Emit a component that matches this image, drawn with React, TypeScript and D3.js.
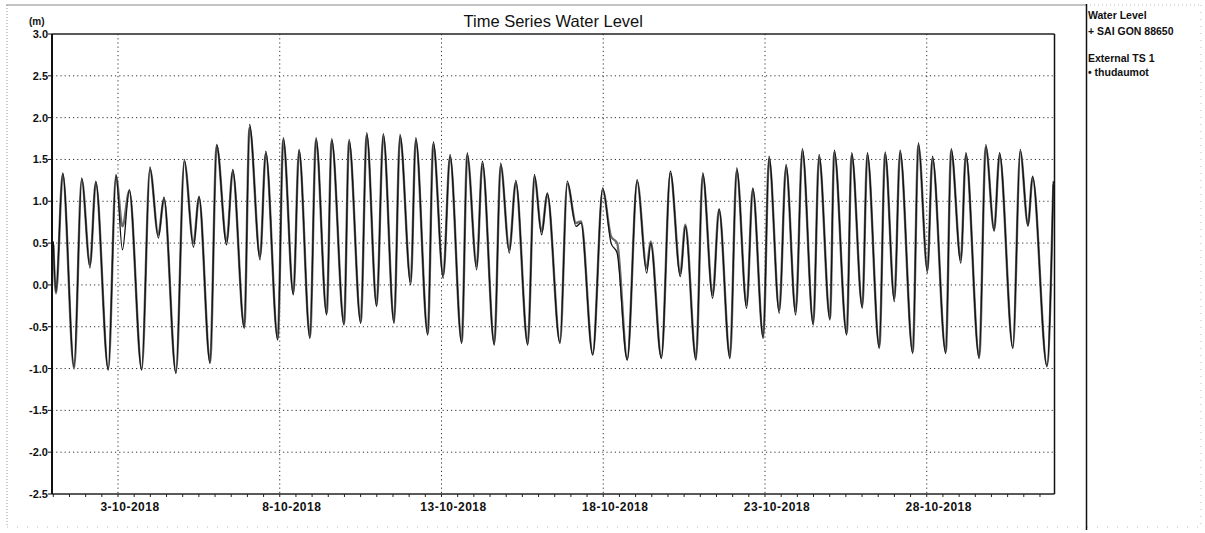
import React from "react";
import * as d3 from "d3";

// Time window of the record (hourly series, October 2018)
const START = new Date(2018, 9, 1, 0, 0);
const END = new Date(2018, 9, 31, 23, 0);

// Hours after START of each tidal turning point (highs, lows and shoulders)
const turnHours = [
  0, 2.0, 7.0, 15.4, 21.1, 27.2, 31.5, 40.8, 46.5, 51.3,
  56.4, 65.6, 71.7, 77.9, 82.1, 91.0, 97.2, 104.0, 108.1, 116.3,
  121.2, 128.6, 133.1, 141.7, 145.6, 153.4, 157.6, 166.5, 170.6, 178.1,
  182.3, 190.4, 194.9, 202.8, 206.5, 215.7, 219.4, 228.1, 232.5, 239.9,
  244.8, 252.8, 257.2, 265.2, 268.9, 277.8, 281.9, 289.3, 294.3, 303.0,
  307.1, 314.1, 318.3, 327.2, 331.9, 338.3, 343.1, 352.0, 356.9, 362.3,
  366.5, 375.9, 381.3, 387.8, 391.5, 400.2, 407.6, 413.8, 418.3, 425.8,
  433.2, 440.2, 443.2, 451.1, 457.8, 465.2, 468.9, 476.8, 481.8, 489.2,
  493.9, 502.0, 507.0, 514.4, 518.9, 526.7, 531.0, 538.6, 543.6, 550.8,
  555.7, 563.8, 568.1, 576.2, 579.4, 588.6, 592.3, 600.2, 603.9, 612.8,
  617.1, 624.0, 628.2, 637.6, 641.8, 648.5, 652.2, 662.1, 666.1, 673.3,
  677.0, 686.9, 691.8, 698.0, 702.0, 711.9, 717.4, 723.1, 726.5, 737.2,
  741.9,
];

// Water level (m) at SAI GON 88650
const saigonLevels = [
  0.52, -0.08, 1.34, -0.98, 1.28, 0.2, 1.24, -1.02, 1.32, 0.42,
  1.14, -1.02, 1.41, 0.56, 1.05, -1.06, 1.5, 0.45, 1.06, -0.94,
  1.68, 0.48, 1.38, -0.52, 1.92, 0.3, 1.6, -0.66, 1.76, -0.12,
  1.62, -0.64, 1.76, -0.36, 1.75, -0.48, 1.74, -0.46, 1.82, -0.26,
  1.81, -0.46, 1.8, 0.0, 1.76, -0.6, 1.71, 0.08, 1.56, -0.7,
  1.58, 0.18, 1.48, -0.72, 1.46, 0.38, 1.25, -0.72, 1.32, 0.6,
  1.1, -0.7, 1.24, 0.7, 0.74, -0.84, 1.16, 0.5, 0.38, -0.9,
  1.26, 0.14, 0.5, -0.88, 1.36, 0.1, 0.7, -0.9, 1.34, -0.16,
  0.91, -0.88, 1.4, -0.28, 1.16, -0.64, 1.54, -0.34, 1.44, -0.36,
  1.63, -0.48, 1.56, -0.42, 1.61, -0.6, 1.58, -0.28, 1.58, -0.76,
  1.59, -0.2, 1.61, -0.82, 1.7, 0.14, 1.54, -0.82, 1.63, 0.26,
  1.58, -0.88, 1.68, 0.64, 1.58, -0.76, 1.62, 0.7, 1.3, -0.98,
  1.24,
];

// External TS 1: water level (m) at thudaumot
const thudaumotLevels = [
  0.48, -0.1, 1.32, -1.0, 1.26, 0.24, 1.22, -1.0, 1.3, 0.7,
  1.12, -1.0, 1.38, 0.6, 1.02, -1.04, 1.47, 0.5, 1.04, -0.92,
  1.66, 0.52, 1.35, -0.5, 1.88, 0.34, 1.57, -0.64, 1.73, -0.1,
  1.6, -0.62, 1.73, -0.34, 1.72, -0.46, 1.71, -0.44, 1.79, -0.24,
  1.78, -0.44, 1.77, 0.04, 1.73, -0.58, 1.68, 0.12, 1.53, -0.68,
  1.55, 0.22, 1.45, -0.7, 1.43, 0.42, 1.22, -0.7, 1.29, 0.64,
  1.08, -0.68, 1.21, 0.74, 0.76, -0.82, 1.13, 0.58, 0.5, -0.88,
  1.23, 0.2, 0.52, -0.86, 1.33, 0.14, 0.72, -0.88, 1.31, -0.12,
  0.9, -0.86, 1.37, -0.24, 1.14, -0.62, 1.51, -0.3, 1.41, -0.32,
  1.6, -0.46, 1.53, -0.4, 1.58, -0.58, 1.55, -0.26, 1.55, -0.74,
  1.56, -0.16, 1.58, -0.8, 1.67, 0.18, 1.51, -0.8, 1.6, 0.3,
  1.55, -0.86, 1.65, 0.66, 1.55, -0.74, 1.59, 0.72, 1.28, -0.96,
  1.2,
];

const levelTicks = [3.0, 2.5, 2.0, 1.5, 1.0, 0.5, 0.0, -0.5, -1.0, -1.5, -2.0, -2.5];
const gridDays = [3, 8, 13, 18, 23, 28];
const dateLabels = ["3-10-2018", "8-10-2018", "13-10-2018", "18-10-2018", "23-10-2018", "28-10-2018"];

const FONT = "'Liberation Sans', Arial, Helvetica, sans-serif";

export default function App() {
  const W = 1205;
  const H = 533;
  const left = 52;
  const right = 1054.5;
  const top = 34;
  const bottom = 494;

  const x = d3.scaleTime().domain([START, END]).range([53.3, 1054.8]);
  const y = d3.scaleLinear().domain([-2.5, 3.0]).range([bottom, top]);

  const at = (h: number) => new Date(+START + h * 3600 * 1000);
  const line = d3
    .line<[number, number]>()
    .x((d) => x(at(d[0])))
    .y((d) => y(d[1]))
    .curve(d3.curveMonotoneX);

  const sgPath = line(turnHours.map((h, i) => [h, saigonLevels[i]] as [number, number])) || "";
  const tdPath = line(turnHours.map((h, i) => [h, thudaumotLevels[i]] as [number, number])) || "";

  const halfDays = d3.timeHour.every(12)!.range(START, END);
  const dayDates = gridDays.map((d) => new Date(2018, 9, d));

  return (
    <svg
      width={W}
      height={H}
      style={{ position: "absolute", left: 0, top: 0, display: "block", background: "#fff" }}
      fontFamily={FONT}
    >
      <defs>
        <clipPath id="plotClip">
          <rect x={left} y={top} width={right - left} height={bottom - top} />
        </clipPath>
      </defs>

      {/* page frame */}
      <line x1={6} y1={5} x2={1086} y2={5} stroke="#8a8a8a" strokeWidth={1.2} />
      <line x1={1086} y1={5} x2={1201} y2={5} stroke="#bbb" strokeWidth={1} strokeDasharray="1 3" />
      <line x1={7} y1={5} x2={7} y2={527} stroke="#999" strokeWidth={1} strokeDasharray="1 2" />
      <line x1={1201} y1={5} x2={1201} y2={527} stroke="#bbb" strokeWidth={1} strokeDasharray="1 6" />
      <line x1={7} y1={527} x2={1201} y2={527} stroke="#bbb" strokeWidth={1} strokeDasharray="1 9" />

      {/* legend divider */}
      <line x1={1086.5} y1={4} x2={1086.5} y2={530} stroke="#111" strokeWidth={1.5} />

      {/* title */}
      <text x={(left + right) / 2} y={27} textAnchor="middle" fontSize={16.5} fill="#111">
        Time Series Water Level
      </text>
      <text x={29} y={25} fontSize={10} fontWeight="bold" fill="#111">
        (m)
      </text>

      {/* grid */}
      <g stroke="#333" strokeWidth={1} strokeDasharray="1.2 3">
        {levelTicks
          .filter((v) => v < 3 && v > -2.5)
          .map((v) => (
            <line key={"h" + v} x1={left} x2={right} y1={y(v)} y2={y(v)} />
          ))}
        {dayDates.map((d, i) => (
          <line key={"v" + i} x1={x(d)} x2={x(d)} y1={top} y2={bottom} />
        ))}
      </g>

      {/* series */}
      <g clipPath="url(#plotClip)" fill="none" strokeLinejoin="round">
        <path d={tdPath} stroke="#6e6e6e" strokeWidth={2.4} />
        <path d={sgPath} stroke="#111" strokeWidth={1.3} />
      </g>

      {/* plot frame */}
      <line x1={left} y1={top} x2={right} y2={top} stroke="#222" strokeWidth={1.4} />
      <line x1={left} y1={bottom} x2={right} y2={bottom} stroke="#222" strokeWidth={1.4} />
      <line x1={right} y1={top} x2={right} y2={bottom} stroke="#111" strokeWidth={1.5} />
      <line x1={left} y1={top} x2={left} y2={bottom} stroke="#111" strokeWidth={2} />

      {/* y axis */}
      {levelTicks.map((v) => (
        <g key={"yt" + v}>
          <line x1={left - 4} x2={left} y1={y(v)} y2={y(v)} stroke="#111" strokeWidth={1} />
          <text x={48} y={y(v) + 4} textAnchor="end" fontSize={11} fontWeight="bold" fill="#111">
            {v.toFixed(1)}
          </text>
        </g>
      ))}

      {/* x axis */}
      {halfDays.map((d, i) => (
        <line key={"xt" + i} x1={x(d)} x2={x(d)} y1={bottom} y2={bottom + 3} stroke="#222" strokeWidth={1} />
      ))}
      {dayDates.map((d, i) => (
        <text
          key={"xl" + i}
          x={x(d) + 12}
          y={511}
          textAnchor="middle"
          fontSize={12}
          fontWeight="bold"
          letterSpacing={0.5}
          fill="#111"
        >
          {dateLabels[i]}
        </text>
      ))}

      {/* legend */}
      <g fontSize={10.5} fontWeight="bold" fill="#111">
        <text x={1088} y={19}>Water Level</text>
        <text x={1088} y={35}>+ SAI GON 88650</text>
        <text x={1088} y={62}>External TS 1</text>
        <text x={1088} y={76}>• thudaumot</text>
      </g>
    </svg>
  );
}
